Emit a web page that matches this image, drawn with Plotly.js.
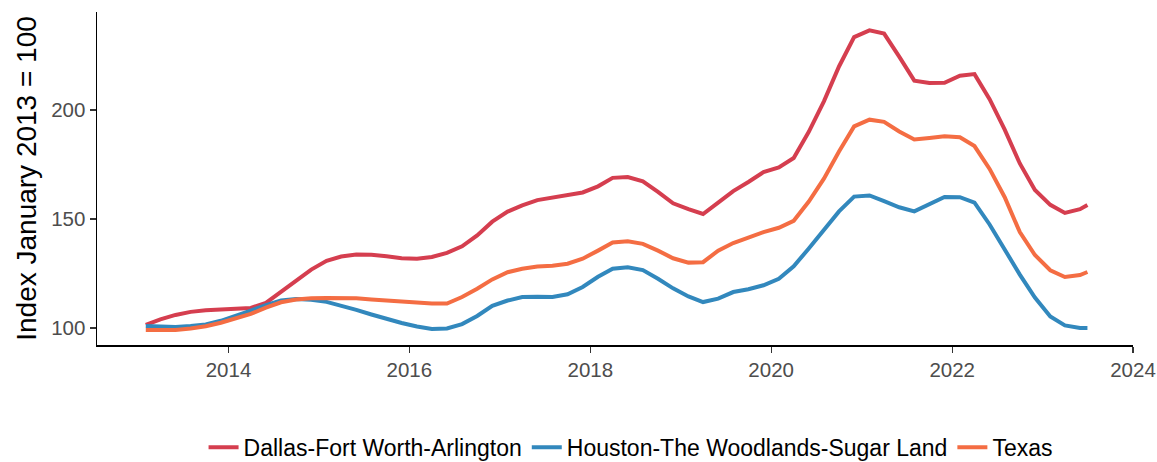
<!DOCTYPE html>
<html>
<head>
<meta charset="utf-8">
<script src="https://cdn.plot.ly/plotly-3.0.1.min.js"></script>
<style>
html,body{margin:0;padding:0;background:#fff;}
#chart{width:1157px;height:462px;}
</style>
</head>
<body>
<div id="chart"></div>
<script>
const dates = [
"2013-02-01","2013-04-01","2013-06-01","2013-08-01","2013-10-01","2013-12-01",
"2014-02-01","2014-04-01","2014-06-01","2014-08-01","2014-10-01","2014-12-01",
"2015-02-01","2015-04-01","2015-06-01","2015-08-01","2015-10-01","2015-12-01",
"2016-02-01","2016-04-01","2016-06-01","2016-08-01","2016-10-01","2016-12-01",
"2017-02-01","2017-04-01","2017-06-01","2017-08-01","2017-10-01","2017-12-01",
"2018-02-01","2018-04-01","2018-06-01","2018-08-01","2018-10-01","2018-12-01",
"2019-02-01","2019-04-01","2019-06-01","2019-08-01","2019-10-01","2019-12-01",
"2020-02-01","2020-04-01","2020-06-01","2020-08-01","2020-10-01","2020-12-01",
"2021-02-01","2021-04-01","2021-06-01","2021-08-01","2021-10-01","2021-12-01",
"2022-02-01","2022-04-01","2022-06-01","2022-08-01","2022-10-01","2022-12-01",
"2023-02-01","2023-04-01","2023-06-01","2023-07-01"
];
const dallas = [
101.4,104,106,107.4,108.1,108.5,
108.8,109.2,111.5,116.5,121.5,126.8,
130.8,132.8,133.7,133.6,132.9,132,
131.8,132.6,134.5,137.5,142.5,148.8,
153.4,156.3,158.7,160,161.3,162.2,
165,168.9,169.3,167.3,162.5,157.2,
154.5,152.3,157.5,162.8,167,171.5,
173.7,178,190,204,220,233.5,
236.6,235.1,224.5,213.5,212.4,212.5,
215.8,216.5,205,191,175.5,163.3,
156.5,152.8,154.5,156.4
];
const houston = [
100.9,100.7,100.5,100.9,101.6,103.3,
105.5,108,110.5,112.6,113.3,113,
112,110.3,108.3,106.2,104.2,102.3,
100.7,99.5,99.8,101.8,105.5,110.2,
112.6,114.2,114.3,114.2,115.5,118.8,
123.5,127.2,127.9,126.6,122.6,118.2,
114.5,111.9,113.5,116.5,117.8,119.6,
122.6,128.3,136.5,145,153.5,160.3,
160.8,158.2,155.4,153.5,156.8,160.1,
160,157.5,147.5,136,124.5,114,
105.3,101.2,100,100
];
const texas = [
99.1,99.1,99.1,99.8,100.8,102.4,
104.3,106.5,109.3,111.8,113.1,113.7,
113.8,113.8,113.6,113.1,112.6,112.1,
111.7,111.2,111.2,114.2,118,122.3,
125.6,127.2,128.2,128.6,129.5,131.8,
135.5,139.2,139.8,138.6,135.5,132,
130,130.2,135.5,139,141.5,144,
146,149.2,158,168.5,181,192.5,
195.6,194.6,190.2,186.5,187.2,188,
187.5,183.5,173,160,144,133.5,
126.5,123.4,124.3,125.7
];
const seriesNames = ["Dallas-Fort Worth-Arlington","Houston-The Woodlands-Sugar Land","Texas"];
const seriesColors = ["#D53E4F","#3288BD","#F46D43"];
const yTickVals = [100,150,200];
const xTickVals = ["2014-01-01","2016-01-01","2018-01-01","2020-01-01","2022-01-01","2024-01-01"];
const xTickText = ["2014","2016","2018","2020","2022","2024"];

const values = [dallas, houston, texas];
const traces = values.map((v,i)=>({
  type:"scatter", mode:"lines", x:dates, y:v, name:seriesNames[i],
  line:{color:seriesColors[i], width:4}
}));

const layout = {
  width:1157, height:462,
  paper_bgcolor:"#fff", plot_bgcolor:"#fff",
  margin:{l:97, r:24, t:12, b:117},
  font:{family:"Liberation Sans, Arial, sans-serif", color:"#000"},
  showlegend:true,
  legend:{orientation:"h", xref:"container", yref:"container", x:0.545, xanchor:"center", y:0.032, yanchor:"middle",
          font:{size:23, color:"#000"}, itemwidth:30, traceorder:"normal"},
  xaxis:{type:"date", range:["2012-07-19","2024-01-01"], showgrid:false, zeroline:false,
         showline:true, linecolor:"#000", linewidth:1.5, ticks:"outside", ticklen:6, tickcolor:"#333", tickwidth:1.2,
         tickvals:xTickVals, ticktext:xTickText, tickfont:{size:20.5, color:"#4D4D4D"}},
  yaxis:{range:[92.2,245], showgrid:false, zeroline:false,
         showline:true, linecolor:"#000", linewidth:1.5, ticks:"outside", ticklen:6, tickcolor:"#333", tickwidth:1.2,
         tickvals:yTickVals, tickfont:{size:20.5, color:"#4D4D4D"},
         title:{text:"Index January 2013 = 100", font:{size:28, color:"#000"}, standoff:6}}
};
Plotly.newPlot("chart", traces, layout, {displayModeBar:false, staticPlot:true});
</script>
</body>
</html>
